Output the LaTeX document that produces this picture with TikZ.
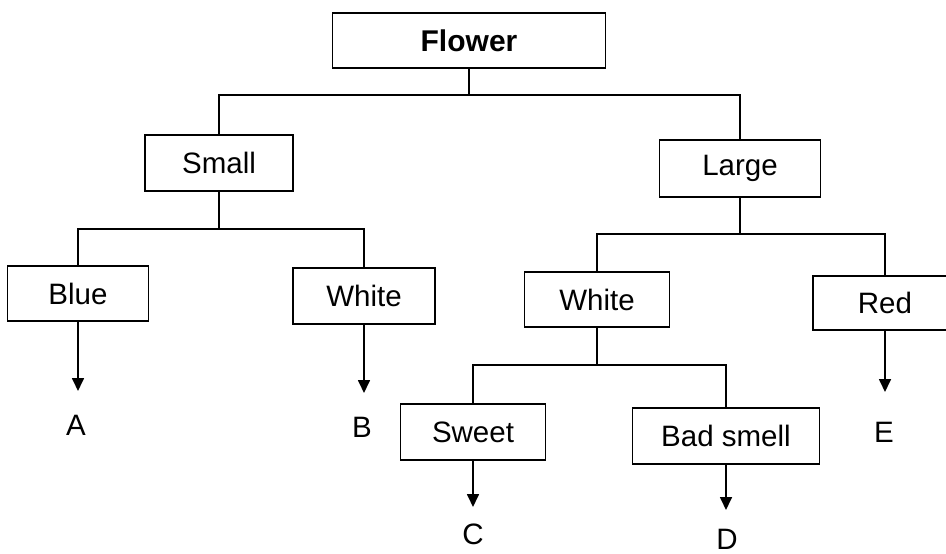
\documentclass[tikz,border=0pt]{standalone}
\usepackage{fontspec}
\setmainfont{Liberation Sans}
\usetikzlibrary{arrows.meta}
\tikzset{
  box/.style={draw, line width=1.7pt, inner sep=0pt, font=\fontsize{29.5}{32}\selectfont},
  lab/.style={inner sep=0pt, font=\fontsize{29.5}{32}\selectfont},
  conn/.style={line width=1.7pt},
  arr/.style={line width=1.7pt, -{Triangle[length=13pt,width=12pt]}}
}
\begin{document}
\begin{tikzpicture}[x=1pt,y=-1pt]
\useasboundingbox (0,0) rectangle (946,554);
% boxes
\node[box, minimum width=273pt, minimum height=55pt, font=\fontsize{30}{32}\selectfont\bfseries] (flower) at (469,40.5) {Flower};
\node[box, minimum width=148pt, minimum height=56pt] (small) at (219,163) {Small};
\node[box, minimum width=161pt, minimum height=57pt] (large) at (740,168.5) {Large};
\node[box, minimum width=141pt, minimum height=55pt] (blue) at (78,293.5) {Blue};
\node[box, minimum width=142pt, minimum height=56pt] (whiteL) at (364,296) {White};
\node[box, minimum width=145pt, minimum height=55pt] (whiteR) at (597,299.5) {White};
\node[box, minimum width=144pt, minimum height=54pt] (red) at (885,303) {Red};
\node[box, minimum width=145pt, minimum height=56pt] (sweet) at (473,432) {Sweet};
\node[box, minimum width=187pt, minimum height=56pt] (bad) at (726,436) {Bad smell};
% labels
\node[lab] (A) at (76,425) {A};
\node[lab] (B) at (362,427) {B};
\node[lab] (C) at (473,534) {C};
\node[lab] (D) at (727,539) {D};
\node[lab] (E) at (884,432) {E};
% arrow tips
\coordinate (tA) at (78,391);
\coordinate (tB) at (364,393);
\coordinate (tC) at (473,507);
\coordinate (tD) at (726,510);
\coordinate (tE) at (885,392);
% tree connectors
\coordinate (j1) at (469,95);
\draw[conn] (flower.south) -- (j1);
\draw[conn] (j1) -| (small.north);
\draw[conn] (j1) -| (large.north);
\coordinate (j2) at (219,229);
\draw[conn] (small.south) -- (j2);
\draw[conn] (j2) -| (blue.north);
\draw[conn] (j2) -| (whiteL.north);
\coordinate (j3) at (740,234);
\draw[conn] (large.south) -- (j3);
\draw[conn] (j3) -| (whiteR.north);
\draw[conn] (j3) -| (red.north);
\coordinate (j4) at (597,365);
\draw[conn] (whiteR.south) -- (j4);
\draw[conn] (j4) -| (sweet.north);
\draw[conn] (j4) -| (bad.north);
% arrows
\draw[arr] (blue.south) -- (tA);
\draw[arr] (whiteL.south) -- (tB);
\draw[arr] (red.south) -- (tE);
\draw[arr] (sweet.south) -- (tC);
\draw[arr] (bad.south) -- (tD);
\end{tikzpicture}
\end{document}
